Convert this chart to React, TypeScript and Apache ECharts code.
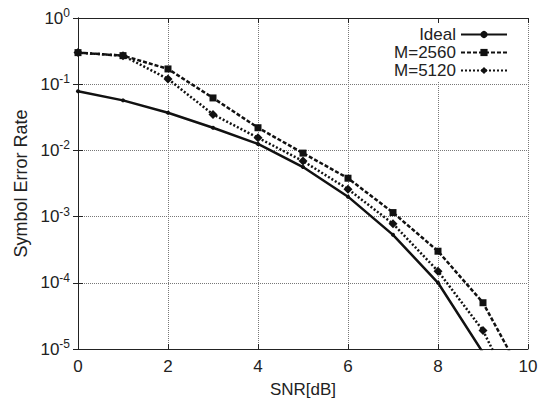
import React, { useEffect, useRef } from "react";
import * as echarts from "echarts";

const snr = [0, 1, 2, 3, 4, 5, 6, 7, 8, 9, 10];
const ideal = [0.078, 0.057, 0.037, 0.022, 0.0125, 0.0056, 0.002, 0.00053, 0.0001, 0.0000088, 0.0000003];
const m2560 = [0.3, 0.27, 0.17, 0.062, 0.022, 0.0091, 0.0038, 0.00115, 0.0003, 0.00005, 0.0000028];
const m5120 = [0.3, 0.27, 0.12, 0.035, 0.0155, 0.0069, 0.0026, 0.00078, 0.00015, 0.000019, 0.0000008];
const seriesNames = ["Ideal", "M=2560", "M=5120"];
const xTicks = [0, 2, 4, 6, 8, 10];

const FONT = "Liberation Sans, Arial, sans-serif";

export default function App() {
  const ref = useRef<HTMLDivElement>(null);
  useEffect(() => {
    const chart = echarts.init(ref.current!, null, { renderer: "svg" });
    const pair = (arr: number[]) => snr.map((x, i) => [x, arr[i]]);
    const supLabel = (v: number) => {
      const e = Math.round(Math.log10(v));
      return `{b|10}{s|${e}}`;
    };
    const yLabel = {
      formatter: supLabel,
      color: "#222",
      margin: 8,
      rich: {
        b: { fontSize: 17, fontFamily: FONT, color: "#222" },
        s: { fontSize: 12, fontFamily: FONT, color: "#222", verticalAlign: "bottom", padding: [0, 0, 10, 0] },
      },
    };
    chart.setOption({
      animation: false,
      backgroundColor: "#fff",
      textStyle: { fontFamily: FONT },
      grid: { left: 78, top: 18, right: 14, bottom: 56 },
      legend: {
        data: seriesNames,
        orient: "vertical",
        align: "right",
        right: 30,
        top: 23,
        itemWidth: 46,
        itemHeight: 9,
        itemGap: 1,
        padding: [3, 4, 3, 8],
        backgroundColor: "#fff",
        textStyle: { fontSize: 17, color: "#222", fontFamily: FONT, lineHeight: 16 },
      },
      xAxis: [
        {
          type: "value",
          min: 0,
          max: 10,
          interval: 2,
          name: "SNR[dB]",
          nameLocation: "middle",
          nameGap: 32,
          nameTextStyle: { fontSize: 17, color: "#222", fontFamily: FONT },
          axisLine: { lineStyle: { color: "#222", width: 1 } },
          axisTick: { inside: true, length: 5, lineStyle: { color: "#222" } },
          axisLabel: { fontSize: 17, color: "#222", margin: 9, formatter: (v: number) => (xTicks.includes(v) ? String(v) : "") },
          splitLine: { show: true, lineStyle: { type: "dotted", color: "#777", width: 1 } },
        },
        {
          type: "value",
          position: "top",
          min: 0,
          max: 10,
          interval: 2,
          axisLine: { lineStyle: { color: "#222", width: 1 } },
          axisTick: { inside: true, length: 5, lineStyle: { color: "#222" } },
          axisLabel: { show: false },
          splitLine: { show: false },
        },
      ],
      yAxis: [
        {
          type: "log",
          logBase: 10,
          min: 1e-5,
          max: 1,
          name: "Symbol Error Rate",
          nameLocation: "middle",
          nameGap: 46,
          nameTextStyle: { fontSize: 18, color: "#222", fontFamily: FONT },
          axisLine: { show: true, lineStyle: { color: "#222", width: 1 } },
          axisTick: { inside: true, length: 5, lineStyle: { color: "#222" } },
          axisLabel: yLabel,
          splitLine: { show: true, lineStyle: { type: "dotted", color: "#777", width: 1 } },
        },
        {
          type: "log",
          logBase: 10,
          min: 1e-5,
          max: 1,
          position: "right",
          axisLine: { show: true, lineStyle: { color: "#222", width: 1 } },
          axisTick: { inside: true, length: 5, lineStyle: { color: "#222" } },
          axisLabel: { show: false },
          splitLine: { show: false },
        },
      ],
      series: [
        {
          name: seriesNames[0],
          type: "line",
          data: pair(ideal),
          clip: true,
          symbol: "circle",
          symbolSize: 4,
          color: "#111",
          lineStyle: { color: "#111", width: 2.5, type: "solid" },
          itemStyle: { color: "#111" },
        },
        {
          name: seriesNames[1],
          type: "line",
          data: pair(m2560),
          clip: true,
          symbol: "rect",
          symbolSize: 7,
          color: "#111",
          lineStyle: { color: "#111", width: 2.5, type: [4, 2] },
          itemStyle: { color: "#111" },
        },
        {
          name: seriesNames[2],
          type: "line",
          data: pair(m5120),
          clip: true,
          symbol: "diamond",
          symbolSize: 9,
          color: "#111",
          lineStyle: { color: "#111", width: 2.5, type: [2, 2] },
          itemStyle: { color: "#111" },
        },
      ],
    });
    return () => chart.dispose();
  }, []);
  return <div ref={ref} style={{ width: 542, height: 405, position: "absolute", left: 0, top: 0 }} />;
}
